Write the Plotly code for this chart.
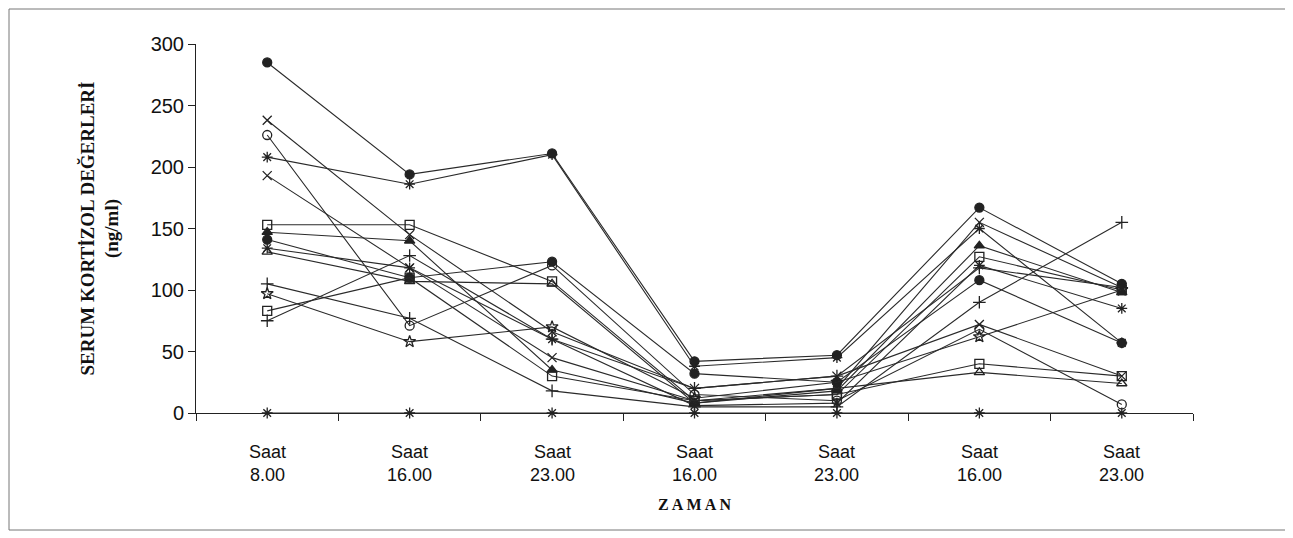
import plotly.graph_objects as go

categories = ["Saat<br>8.00", "Saat<br>16.00", "Saat<br>23.00", "Saat<br>16.00",
              "Saat<br>23.00", "Saat<br>16.00", "Saat<br>23.00"]

s01 = [285, 194, 211, 42, 47, 167, 105]
s02 = [208, 186, 210, 38, 45, 150, 57]
s03 = [238, 145, 66, 20, 30, 72, 30]
s04 = [226, 71, 120, 15, 10, 68, 7]
s05 = [193, 118, 45, 10, 20, 155, 102]
s06 = [153, 153, 107, 10, 15, 127, 100]
s07 = [147, 140, 35, 8, 18, 136, 98]
s08 = [141, 110, 123, 32, 25, 108, 57]
s09 = [134, 118, 60, 6, 8, 120, 85]
s10 = [131, 107, 105, 8, 20, 33, 24]
s11 = [105, 77, 18, 5, 5, 90, 155]
s12 = [97, 58, 70, 12, 25, 62, 100]
s13 = [83, 110, 30, 10, 15, 40, 30]
s14 = [75, 128, 60, 20, 30, 118, 102]
s15 = [0, 0, 0, 0, 0, 0, 0]

series = [
    (s01, "circle"), (s02, "asterisk-open"), (s03, "x-thin-open"),
    (s04, "circle-open"), (s05, "x-thin-open"), (s06, "square-open"),
    (s07, "triangle-up"), (s08, "circle"), (s09, "asterisk-open"),
    (s10, "triangle-up-open"), (s11, "cross-thin-open"), (s12, "star-open"),
    (s13, "square-open"), (s14, "cross-thin-open"), (s15, "asterisk-open"),
]

W, H = 1285, 530
L, T, PW, PH = 188, 36, 997, 369

fig = go.Figure()
xs = list(range(len(categories)))
for vals, sym in series:
    fig.add_trace(go.Scatter(
        x=xs, y=vals, mode="lines+markers",
        line=dict(color="#2a2a2a", width=1.1),
        marker=dict(symbol=sym, size=9, color="#222",
                    line=dict(color="#222", width=1.3)),
        showlegend=False, cliponaxis=False))

fig.update_layout(
    width=W, height=H,
    margin=dict(l=L, r=W - L - PW, t=T, b=H - T - PH),
    paper_bgcolor="white", plot_bgcolor="white",
    font=dict(family="Liberation Sans, Arial", color="#111"),
    xaxis=dict(
        range=[-0.5, 6.5], tickmode="array",
        tickvals=[i - 0.5 for i in range(8)], ticktext=[""] * 8,
        ticks="outside", ticklen=7, tickcolor="#222",
        showline=True, linecolor="#222", linewidth=1,
        showgrid=False, zeroline=False, anchor="y",
        title=dict(text="<b>Z A M A N</b>", standoff=76,
                   font=dict(family="Liberation Serif, Times New Roman", size=16))),
    yaxis=dict(
        range=[0, 300], tickvals=[0, 50, 100, 150, 200, 250, 300],
        ticks="outside", ticklen=7, tickcolor="#222",
        showline=True, linecolor="#222", linewidth=1,
        showgrid=False, zeroline=False,
        tickfont=dict(size=20, family="Liberation Sans"),
        title=dict(text="<b>SERUM KORTİZOL DEĞERLERİ<br>(ng/ml)</b>", standoff=26,
                   font=dict(family="Liberation Serif, Times New Roman", size=19))),
)

for i, lab in enumerate(categories):
    fig.add_annotation(x=i, y=0, xref="x", yref="y", text=lab, showarrow=False,
                       yanchor="top", yshift=-27,
                       font=dict(size=18, family="Liberation Sans"))

fig.add_shape(type="rect", xref="paper", yref="paper",
              x0=(1 - L) / PW, x1=(1278 - L) / PW,
              y0=(T + PH - 522) / PH, y1=(T + PH - 1) / PH,
              line=dict(color="#777", width=1))

fig.write_html("out.html")
